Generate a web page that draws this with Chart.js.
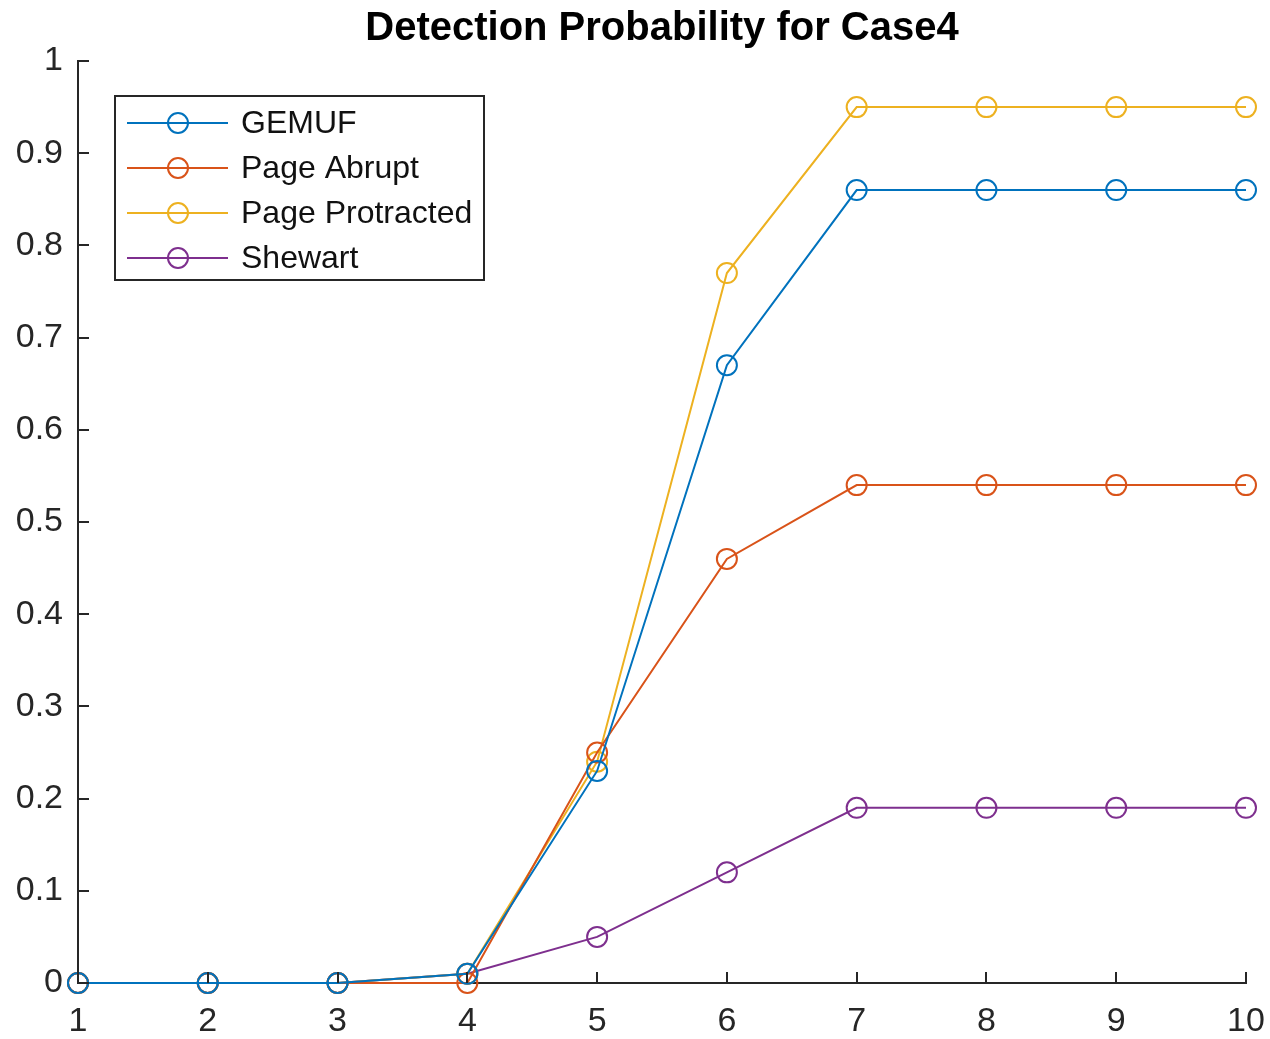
<!DOCTYPE html>
<html>
<head>
<meta charset="utf-8">
<title>Detection Probability for Case4</title>
<script src="https://cdn.jsdelivr.net/npm/chart.js@4.4.1/dist/chart.umd.min.js"></script>
<style>
  body { margin: 0; background: #fff; }
  canvas { display: block; }
</style>
</head>
<body>
<canvas id="myChart" width="1270" height="1039"></canvas>
<script>
const steps = ['1', '2', '3', '4', '5', '6', '7', '8', '9', '10'];
const gemuf = [0, 0, 0, 0.01, 0.23, 0.67, 0.86, 0.86, 0.86, 0.86];
const pageAbrupt = [0, 0, 0, 0, 0.25, 0.46, 0.54, 0.54, 0.54, 0.54];
const pageProtracted = [0, 0, 0, 0.01, 0.24, 0.77, 0.95, 0.95, 0.95, 0.95];
const shewart = [0, 0, 0, 0.01, 0.05, 0.12, 0.19, 0.19, 0.19, 0.19];
const yTickLabels = ['0', '0.1', '0.2', '0.3', '0.4', '0.5', '0.6', '0.7', '0.8', '0.9', '1'];
const chartTitle = 'Detection Probability for Case4';

const FONT = "'Liberation Sans', Arial, Helvetica, sans-serif";
const AXIS = '#262626';

function series(label, data, color) {
    return {
        label: label,
        data: data,
        borderColor: color,
        backgroundColor: 'transparent',
        borderWidth: 2,
        pointStyle: 'circle',
        pointRadius: 10,
        pointBorderWidth: 2,
        pointBorderColor: color,
        pointBackgroundColor: 'transparent',
        tension: 0,
        clip: false
    };
}

// matlab style: title over the axes, ticks pointing inward, legend box upper left
const matlabAxes = {
    id: 'matlabAxes',
    afterDraw(chart) {
        const ctx = chart.ctx;
        const x = chart.scales.x, y = chart.scales.y;
        const area = chart.chartArea;
        ctx.save();

        ctx.fillStyle = '#000';
        ctx.font = 'bold 40px ' + FONT;
        ctx.textAlign = 'center';
        ctx.textBaseline = 'middle';
        ctx.fillText(chartTitle, (area.left + area.right) / 2, 29);

        ctx.strokeStyle = AXIS;
        ctx.lineWidth = 2;
        ctx.beginPath();
        y.ticks.forEach((t, i) => {
            const py = Math.round(y.getPixelForTick(i));
            ctx.moveTo(area.left, py);
            ctx.lineTo(area.left + 11, py);
        });
        steps.forEach((s, i) => {
            const px = Math.round(x.getPixelForValue(i));
            ctx.moveTo(px, area.bottom);
            ctx.lineTo(px, area.bottom - 11);
        });
        ctx.stroke();

        // legend
        const bx = 115, by = 96, bw = 369, bh = 184;
        ctx.fillStyle = '#fff';
        ctx.fillRect(bx, by, bw, bh);
        ctx.strokeRect(bx, by, bw, bh);
        ctx.font = '32px ' + FONT;
        ctx.textAlign = 'left';
        chart.data.datasets.forEach((ds, i) => {
            const cy = by + 27 + i * 45;
            ctx.strokeStyle = ds.borderColor;
            ctx.lineWidth = 2;
            ctx.beginPath();
            ctx.moveTo(bx + 12, cy);
            ctx.lineTo(bx + 113, cy);
            ctx.stroke();
            ctx.beginPath();
            ctx.arc(bx + 63, cy, 10, 0, Math.PI * 2);
            ctx.stroke();
            ctx.fillStyle = '#111';
            ctx.fillText(ds.label, bx + 126, cy + 1);
        });
        ctx.restore();
    }
};

const ctx = document.getElementById('myChart').getContext('2d');
new Chart(ctx, {
    type: 'line',
    data: {
        labels: steps,
        datasets: [
            series('GEMUF', gemuf, '#0072BD'),
            series('Page Abrupt', pageAbrupt, '#D95319'),
            series('Page Protracted', pageProtracted, '#EDB120'),
            series('Shewart', shewart, '#7E2F8E')
        ]
    },
    options: {
        responsive: false,
        animation: false,
        layout: { padding: { left: 0, right: 24, top: 61, bottom: 0 } },
        plugins: {
            legend: { display: false },
            tooltip: { enabled: false },
            title: { display: false }
        },
        scales: {
            x: {
                offset: false,
                grid: { display: false, drawTicks: false },
                border: { display: true, color: AXIS, width: 2 },
                ticks: {
                    color: AXIS,
                    font: { family: FONT, size: 34 },
                    padding: 18,
                    maxRotation: 0,
                    autoSkip: false
                },
                afterFit: s => {
                    s.height = 56;
                    s.paddingLeft = 0;
                    s.paddingRight = 0;
                }
            },
            y: {
                min: 0,
                max: 1,
                grid: { display: false, drawTicks: false },
                border: { display: true, color: AXIS, width: 2 },
                ticks: {
                    stepSize: 0.1,
                    color: AXIS,
                    font: { family: FONT, size: 34 },
                    padding: 15,
                    callback: (v, i) => yTickLabels[i]
                },
                afterFit: s => {
                    s.width = 78;
                    s.paddingTop = 0;
                    s.paddingBottom = 0;
                }
            }
        }
    },
    plugins: [matlabAxes]
});
</script>
</body>
</html>
